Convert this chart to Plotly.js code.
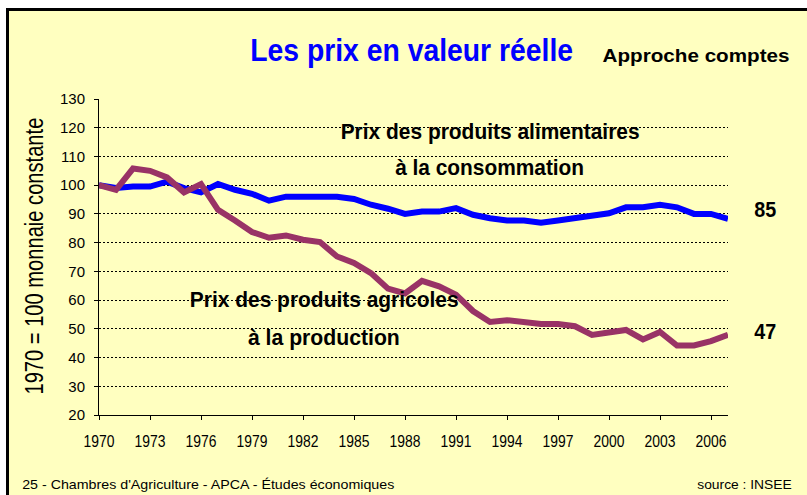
<!DOCTYPE html>
<html>
<head>
<meta charset="utf-8">
<script src="https://cdn.plot.ly/plotly-3.0.1.min.js"></script>
<style>
  html, body { margin:0; padding:0; background:#ffffff; }
  #wrap { position:relative; width:807px; height:495px; overflow:hidden; background:#ffffff; }
  #bg { position:absolute; left:6px; top:8px; width:830px; height:520px; background:#FFFFC0;
        border-left:3px solid #000; border-top:3px solid #000; }
  #chart { position:absolute; left:0; top:0; width:807px; height:495px; }
</style>
</head>
<body>
<div id="wrap"><div id="bg"></div><div id="chart"></div></div>
<script>
// ---- data ----
const years = [1970,1971,1972,1973,1974,1975,1976,1977,1978,1979,1980,1981,1982,1983,1984,1985,1986,1987,1988,1989,
               1990,1991,1992,1993,1994,1995,1996,1997,1998,1999,2000,2001,2002,2003,2004,2005,2006,2007];
const alimentaires = [100,99.0,99.5,99.5,101.2,99.0,97.5,100.4,98.4,97.0,94.6,96.0,96.0,96.0,96.0,95.2,93.2,91.8,90.0,90.8,
                      90.8,92.0,89.7,88.5,87.7,87.7,86.9,87.7,88.6,89.4,90.2,92.3,92.3,93.2,92.3,90.0,90.0,88.3];
const agricoles = [100,98.4,105.8,105.0,102.7,97.5,100.4,91.4,87.7,83.7,81.7,82.5,81.0,80.2,75.2,72.9,69.4,64.0,62.3,66.7,
                   64.8,61.9,56.2,52.4,53.0,52.3,51.7,51.7,50.9,47.9,48.6,49.6,46.3,48.9,44.2,44.2,45.7,47.9];
const xTickVals = [1970,1973,1976,1979,1982,1985,1988,1991,1994,1997,2000,2003,2006];
const yTickVals = [20,30,40,50,60,70,80,90,100,110,120,130];

const W = 807, H = 495;
const M = {l:99, r:78.5, t:98.7, b:79.8};
const PW = W - M.l - M.r, PH = H - M.t - M.b;
function px(x){ return (x - M.l) / PW; }
function py(y){ return (H - M.b - y) / PH; }

const SANS = '"Liberation Sans", Arial, sans-serif';

const traces = [
  { x: years, y: alimentaires, type:'scatter', mode:'lines', line:{color:'#0000FF', width:6}, hoverinfo:'skip' },
  { x: years, y: agricoles, type:'scatter', mode:'lines', line:{color:'#993366', width:6}, hoverinfo:'skip' }
];

// annotations with target rendered widths (to mimic the condensed original typeface)
const annSpecs = [];
function ann(text, x, y, size, color, width, extra){
  const a = Object.assign({ text:text, xref:'paper', yref:'paper', x:px(x), y:py(y), xanchor:'center', yanchor:'middle',
    showarrow:false, font:{family:SANS, size:size, color:color||'#000'} }, extra||{});
  annSpecs.push({w:width, anchor:a.xanchor});
  return a;
}

const annotations = [
  ann('<b>Les prix en valeur réelle</b>', 411.5, 50, 31, '#0000FF', 323),
  ann('<b>Approche comptes</b>', 696.5, 55, 19, '#000', 187),
  ann('<b>Prix des produits alimentaires</b>', 490, 131, 22, '#000', 299),
  ann('<b>à la consommation</b>', 489.5, 167, 22, '#000', 189),
  ann('<b>Prix des produits agricoles</b>', 324.5, 300, 22, '#000', 269),
  ann('<b>à la production</b>', 324, 338, 22, '#000', 152),
  ann('<b>85</b>', 766, 209.5, 22, '#000', 22),
  ann('<b>47</b>', 766, 332, 22, '#000', 22),
  ann('1970 = 100 monnaie constante', 34, 256, 25, '#000', 277, {textangle:-90}),
  ann('25 - Chambres d\'Agriculture - APCA - Études économiques', 20, 485, 13, '#000', 373, {xanchor:'left'}),
  ann('source : INSEE', 795, 485, 13, '#000', 95, {xanchor:'right'})
];

const layout = {
  width:W, height:H,
  margin:{l:M.l, r:M.r, t:M.t, b:M.b, pad:0},
  paper_bgcolor:'rgba(0,0,0,0)', plot_bgcolor:'rgba(0,0,0,0)',
  showlegend:false,
  xaxis:{ range:[1970,2007], tickmode:'array', tickvals:xTickVals, ticktext:xTickVals.map(String),
          showgrid:false, zeroline:false, showline:true, linecolor:'#000', linewidth:1,
          ticks:'outside', ticklen:4, tickcolor:'#000', tickwidth:1, ticklabelstandoff:8,
          tickfont:{family:SANS, size:16, color:'#000'}, fixedrange:true },
  yaxis:{ range:[20,130], tickmode:'array', tickvals:yTickVals, ticktext:yTickVals.map(String),
          showgrid:true, gridcolor:'#000', gridwidth:1, griddash:'2px,2px', zeroline:false,
          showline:true, linecolor:'#000', linewidth:1,
          ticks:'outside', ticklen:4, tickcolor:'#000', tickwidth:1, ticklabelstandoff:6,
          tickfont:{family:SANS, size:15, color:'#000'}, fixedrange:true },
  annotations: annotations
};

Plotly.newPlot('chart', traces, layout, {staticPlot:true, displayModeBar:false}).then(function(gd){
  // condense annotation text horizontally to the measured widths of the original
  const texts = gd.querySelectorAll('.annotation .annotation-text');
  texts.forEach(function(t, i){
    const spec = annSpecs[i]; if(!spec || !spec.w) return;
    const bb = t.getBBox(); if(!bb.width) return;
    const s = spec.w / bb.width;
    const ox = spec.anchor === 'left' ? bb.x : (spec.anchor === 'right' ? bb.x + bb.width : bb.x + bb.width/2);
    const prev = t.getAttribute('transform') || '';
    t.setAttribute('transform', prev + ' translate(' + ox + ',0) scale(' + s + ',1) translate(' + (-ox) + ',0)');
  });
  // condense x tick labels slightly (narrow digits in the original)
  gd.querySelectorAll('.xtick text').forEach(function(t){
    const bb = t.getBBox(); if(!bb.width) return;
    const s = 31 / bb.width;
    const ox = bb.x + bb.width/2;
    const prev = t.getAttribute('transform') || '';
    t.setAttribute('transform', prev + ' translate(' + ox + ',0) scale(' + s + ',1) translate(' + (-ox) + ',0)');
  });
});
</script>
</body>
</html>
